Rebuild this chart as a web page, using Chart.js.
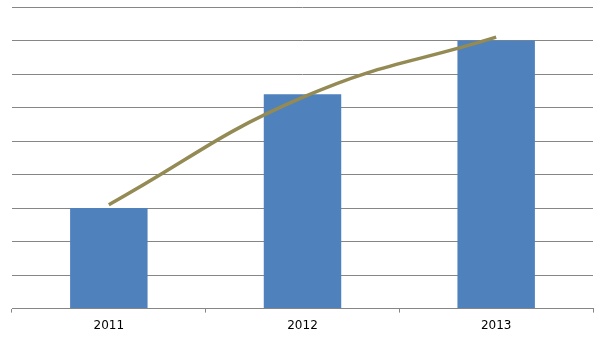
<!DOCTYPE html>
<html>
<head>
<meta charset="utf-8">
<script src="https://cdn.jsdelivr.net/npm/chart.js@4"></script>
<style>
  html, body { margin: 0; padding: 0; background: #fff; }
  #wrap { width: 605px; height: 340px; }
</style>
</head>
<body>
<div id="wrap"><canvas id="chart"></canvas></div>
<script>
const years = ['2011', '2012', '2013'];
const barValues = [3, 6.4, 8];
const trendValues = [3.1, 6.3, 8.1];

const ctx = document.getElementById('chart').getContext('2d');

new Chart(ctx, {
    type: 'bar',
    data: {
        labels: years,
        datasets: [{
            type: 'line',
            data: trendValues,
            borderColor: '#948a54',
            borderWidth: 3.5,
            pointRadius: 0,
            tension: 0.45,
            fill: false,
            order: 0
        }, {
            data: barValues,
            backgroundColor: '#4f81bd',
            categoryPercentage: 1,
            barPercentage: 0.4,
            order: 1
        }]
    },
    options: {
        responsive: true,
        maintainAspectRatio: false,
        animation: false,
        layout: {
            padding: { left: 12, right: 12, top: 7, bottom: 1 }
        },
        plugins: {
            legend: { display: false },
            tooltip: { enabled: false }
        },
        scales: {
            x: {
                grid: {
                    offset: true,
                    drawOnChartArea: false,
                    drawTicks: true,
                    tickLength: 4,
                    color: '#868686'
                },
                border: { color: '#868686' },
                ticks: {
                    color: '#000',
                    font: { family: 'DejaVu Sans', size: 12 },
                    padding: 6
                }
            },
            y: {
                min: 0,
                max: 9,
                ticks: { display: false, stepSize: 1 },
                grid: { color: '#868686', drawTicks: false },
                border: { display: false }
            }
        }
    }
});
</script>
</body>
</html>
